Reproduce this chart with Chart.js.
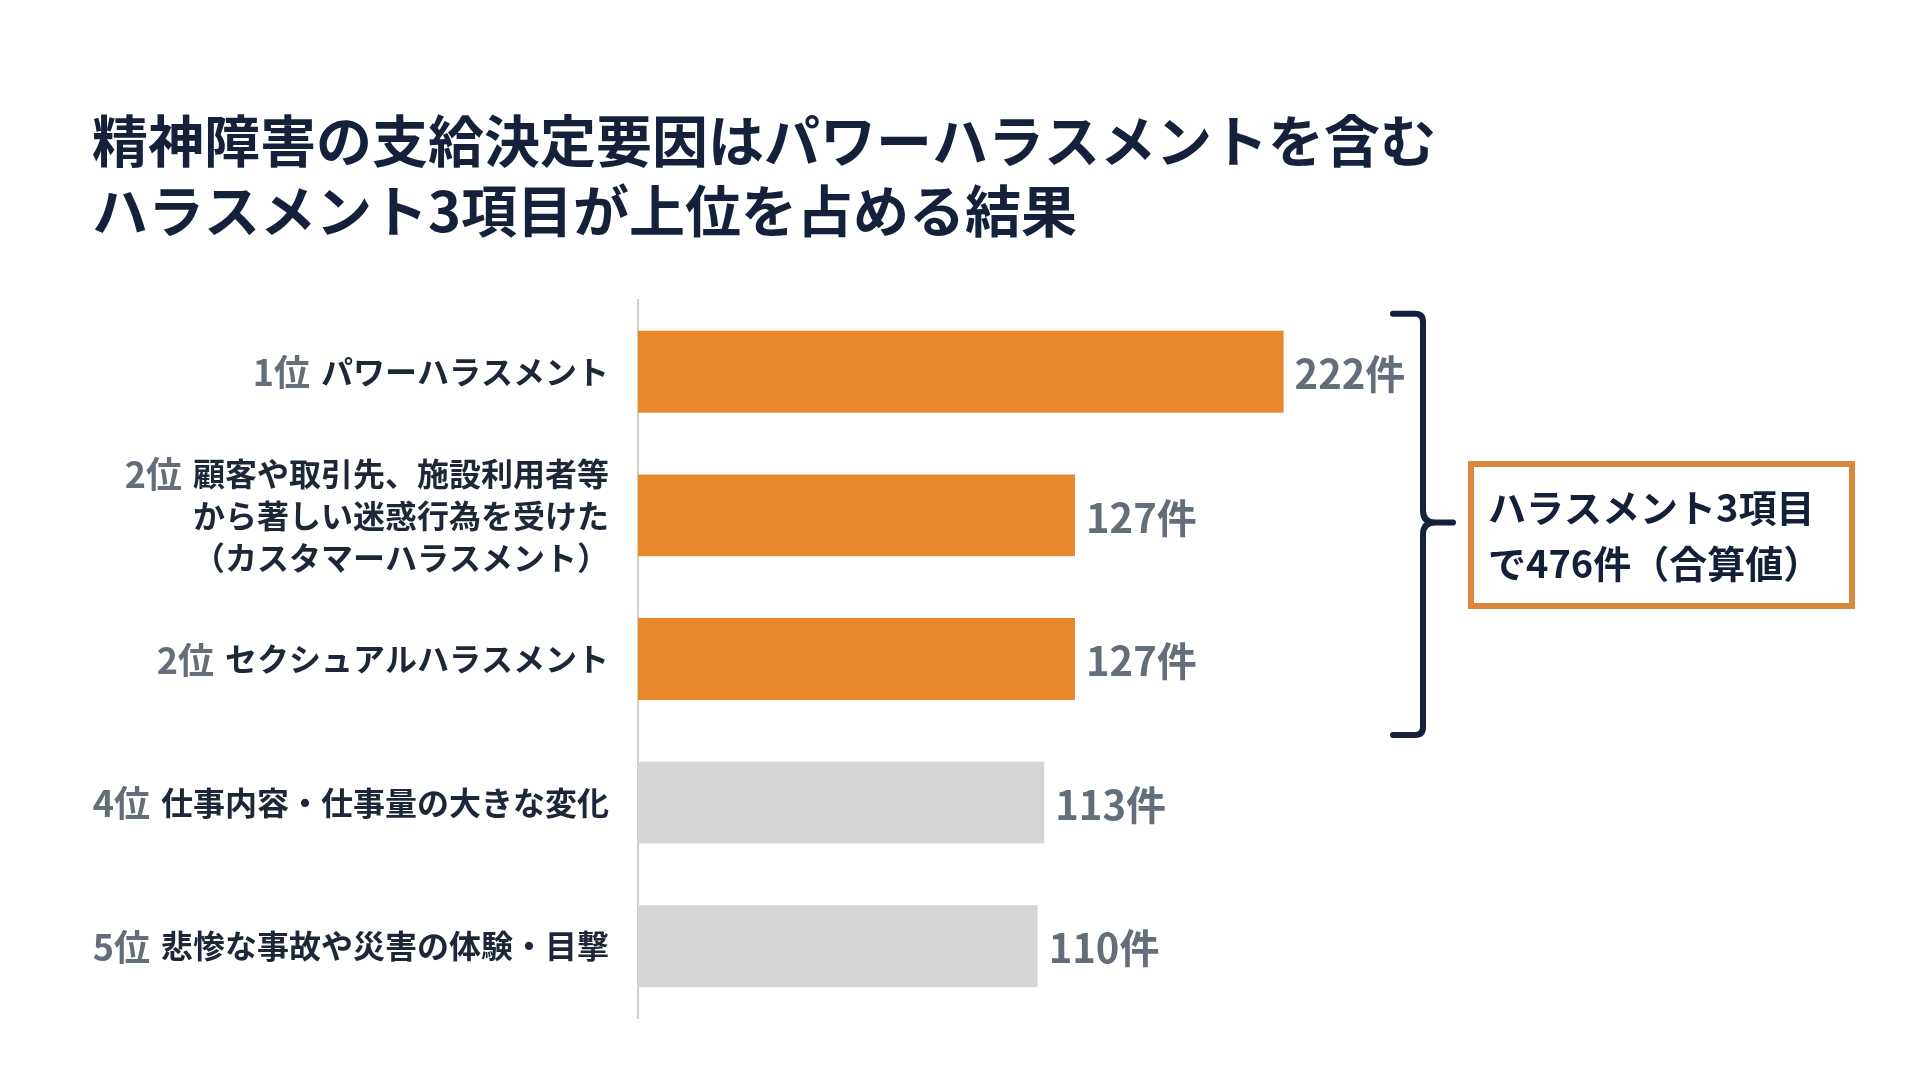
<!DOCTYPE html>
<html lang="ja">
<head>
<meta charset="utf-8">
<title>精神障害の支給決定要因</title>
<script src="https://cdn.jsdelivr.net/npm/chart.js@4.4.1/dist/chart.umd.min.js"></script>
<style>
  html, body { margin: 0; padding: 0; background: #ffffff; }
  #wrap { width: 1920px; height: 1080px; position: relative; }
</style>
</head>
<body>
<div id="wrap"><canvas id="chart"></canvas></div>
<script>
// データ
const ranks = ['1位', '2位', '2位', '4位', '5位'];
const items = [
  ['パワーハラスメント'],
  ['顧客や取引先、施設利用者等', 'から著しい迷惑行為を受けた', '（カスタマーハラスメント）'],
  ['セクシュアルハラスメント'],
  ['仕事内容・仕事量の大きな変化'],
  ['悲惨な事故や災害の体験・目撃']
];
const counts = [222, 127, 127, 113, 110];
const isHarassment = [true, true, true, false, false];
const unit = '件';
const summaryLines = ['ハラスメント3項目', 'で476件（合算値）'];
const titleLines = [
  '精神障害の支給決定要因はパワーハラスメントを含む',
  'ハラスメント3項目が上位を占める結果'
];

const FONT = '"Noto Sans CJK JP", "Noto Sans", sans-serif';
const ORANGE = '#e8872b';
const GREY_BAR = '#d5d5d5';
const NAVY = '#15203a';
const GREY_TXT = '#636e7a';
const AXIS_START = -72; // 元の図の棒は0から始まっていない

const labelsPlugin = {
  id: 'labelsPlugin',
  afterDatasetsDraw(chart) {
    const ctx = chart.ctx;
    const y = chart.scales.y;
    const meta = chart.getDatasetMeta(0);
    const right = chart.chartArea.left - 29;
    ctx.save();
    ctx.textBaseline = 'middle';
    items.forEach((lines, i) => {
      const cy = y.getPixelForValue(i);
      const lh = 42;
      const y0 = cy - (lines.length - 1) * lh / 2;
      ctx.font = 'bold 32px ' + FONT;
      ctx.fillStyle = '#1e2738';
      ctx.textAlign = 'right';
      lines.forEach((t, k) => ctx.fillText(t, right, y0 + k * lh));
      const w = ctx.measureText(lines[0]).width;
      ctx.font = 'bold 36px ' + FONT;
      ctx.fillStyle = GREY_TXT;
      ctx.fillText(ranks[i], right - w - 11, y0 + 1);

      // 値ラベル
      const bar = meta.data[i];
      ctx.textAlign = 'left';
      ctx.font = 'bold 40px ' + FONT;
      ctx.fillStyle = GREY_TXT;
      ctx.fillText(counts[i] + unit, bar.x + 11, cy + 2);
    });
    ctx.restore();
  }
};

const bracketPlugin = {
  id: 'bracketPlugin',
  afterDraw(chart) {
    const ctx = chart.ctx;
    const y = chart.scales.y;
    const top = y.getPixelForValue(0) - 58;
    const bot = y.getPixelForValue(2) + 76;
    const mid = (top + bot) / 2 - 2;
    const bx = 1423;
    ctx.save();
    ctx.strokeStyle = NAVY;
    ctx.lineWidth = 6;
    ctx.lineCap = 'round';
    ctx.lineJoin = 'round';
    ctx.beginPath();
    ctx.moveTo(bx - 30, top);
    ctx.lineTo(bx - 8, top);
    ctx.quadraticCurveTo(bx, top, bx, top + 8);
    ctx.lineTo(bx, mid - 12);
    ctx.quadraticCurveTo(bx, mid, bx + 12, mid);
    ctx.lineTo(bx + 30, mid);
    ctx.moveTo(bx + 12, mid);
    ctx.quadraticCurveTo(bx, mid, bx, mid + 12);
    ctx.lineTo(bx, bot - 8);
    ctx.quadraticCurveTo(bx, bot, bx - 8, bot);
    ctx.lineTo(bx - 30, bot);
    ctx.stroke();

    // 合算値ボックス
    const bxL = 1471, bxT = 464, bxW = 381, bxH = 142;
    ctx.fillStyle = '#ffffff';
    ctx.fillRect(bxL, bxT, bxW, bxH);
    ctx.strokeStyle = '#db873c';
    ctx.lineWidth = 6;
    ctx.lineJoin = 'miter';
    ctx.strokeRect(bxL, bxT, bxW, bxH);
    ctx.fillStyle = '#141f38';
    ctx.font = 'bold 38px ' + FONT;
    ctx.textAlign = 'left';
    ctx.textBaseline = 'middle';
    ctx.fillText(summaryLines[0], 1488, 508);
    ctx.fillText(summaryLines[1], 1488, 564);
    ctx.restore();
  }
};

new Chart(document.getElementById('chart'), {
  type: 'bar',
  data: {
    labels: items.map((l, i) => ranks[i] + ' ' + l.join('')),
    datasets: [{
      data: counts,
      base: AXIS_START,
      backgroundColor: isHarassment.map(h => h ? ORANGE : GREY_BAR),
      borderWidth: 0,
      categoryPercentage: 1,
      barPercentage: 0.57
    }]
  },
  options: {
    indexAxis: 'y',
    responsive: true,
    maintainAspectRatio: false,
    animation: false,
    devicePixelRatio: 1,
    layout: { padding: { left: 92, right: 26, top: 0, bottom: 62 } },
    scales: {
      x: {
        display: false,
        min: AXIS_START,
        max: 500
      },
      y: {
        display: true,
        ticks: { display: false },
        grid: { display: false },
        border: { display: true, color: '#cfcfcf', width: 2 },
        afterFit(scale) { scale.width = 546; }
      }
    },
    plugins: {
      legend: { display: false },
      tooltip: { enabled: false },
      title: {
        display: true,
        text: titleLines,
        align: 'start',
        color: NAVY,
        font: { family: FONT, size: 56, weight: 'bold', lineHeight: 1.25 },
        padding: { top: 106, bottom: 54 }
      }
    }
  },
  plugins: [labelsPlugin, bracketPlugin]
});
</script>
</body>
</html>
